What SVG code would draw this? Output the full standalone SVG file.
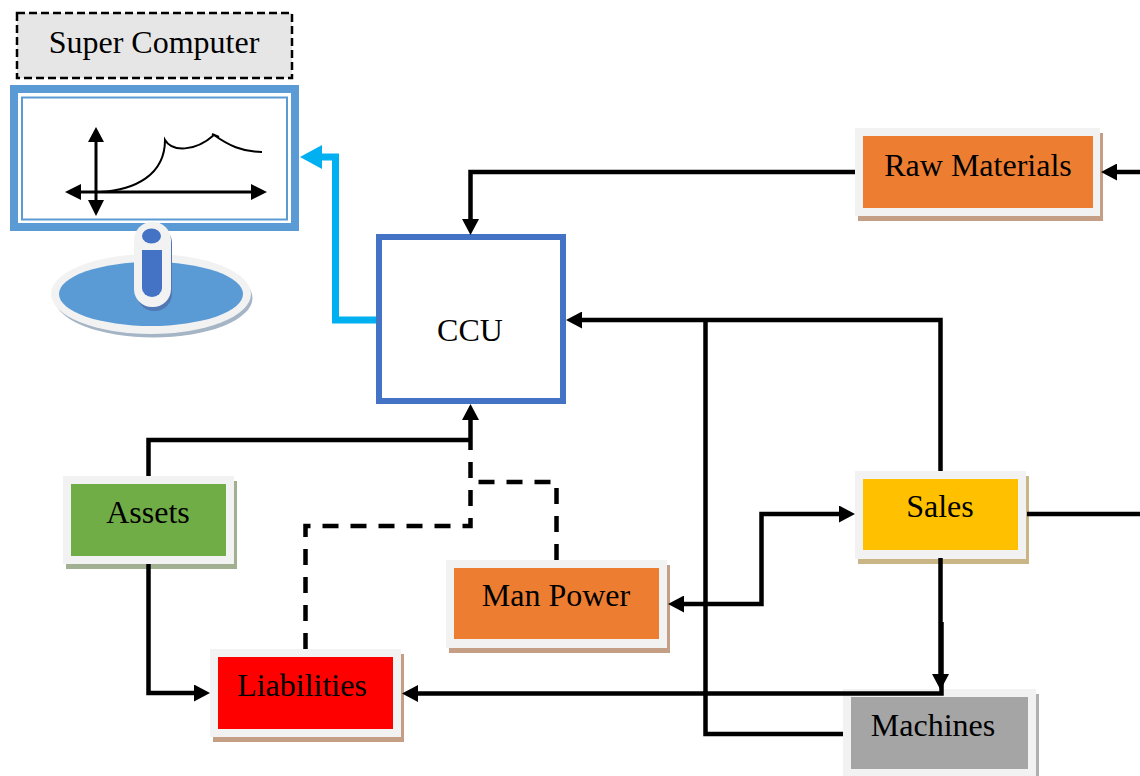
<svg xmlns="http://www.w3.org/2000/svg" width="1140" height="776" viewBox="0 0 1140 776">
<style>
.label{font-family:"Liberation Serif","Times New Roman",serif;font-size:32px;fill:#000;text-anchor:middle}
.frame{fill:#f2f2f2}
.c{fill:none;stroke:#000;stroke-width:4.500}
.d{stroke-dasharray:16 12}
.ax{fill:none;stroke:#000;stroke-width:3}
</style>
<defs>
<marker id="arrow" markerUnits="userSpaceOnUse" markerWidth="16" markerHeight="17" refX="8" refY="8.500" orient="auto-start-reverse" viewBox="0 0 16 17"><path d="M0 0L16 8.500L0 17Z" fill="#000"/></marker>
<marker id="blue" markerUnits="userSpaceOnUse" markerWidth="22" markerHeight="24" refX="11" refY="12" orient="auto" viewBox="0 0 22 24"><path d="M0 0L22 12L0 24Z" fill="#00b0f0"/></marker>
</defs>
<rect width="1140" height="776" fill="#fff"/>
<g id="super-computer-label">
<rect x="17" y="13" width="275" height="65" fill="#e7e6e6" stroke="#000" stroke-width="2.500" stroke-dasharray="8 4"/>
<text class="label" x="154" y="53">Super Computer</text>
</g>
<g id="monitor">
<ellipse cx="153.500" cy="298" rx="99" ry="39.500" fill="#a5b5c6"/>
<ellipse cx="151" cy="294" rx="100" ry="40" fill="#f2f2f2"/>
<ellipse cx="151" cy="294" rx="92" ry="32" fill="#5b9bd5"/>
<rect x="10" y="85" width="289" height="146" fill="#5b9bd5"/>
<rect x="18" y="93" width="273" height="130" fill="#fff"/>
<rect x="22" y="97.500" width="265" height="122" fill="#fff" stroke="#5b9bd5" stroke-width="2"/>
<path class="ax" d="M96 141V201"/>
<path d="M96 127L104 142H88Z M96 216L88 200H104Z M65 192L81 184V200Z M267 192L251 184V200Z"/>
<path class="ax" d="M80 192H252"/>
<path d="M100 192C135 190 165 175 165 140C172 152 195 152 214 135C228 145 242 152 262 152M212 134L219 137" fill="none" stroke="#000" stroke-width="2"/>
<rect x="137" y="226" width="35" height="85" rx="17" fill="#4f78b5"/>
<rect x="134" y="222" width="37" height="85" rx="18" fill="#f2f2f2"/>
<path d="M142 250H162V288A10 9 0 0 1 142 288Z" fill="#4472c4"/>
<ellipse cx="151.500" cy="236" rx="9.500" ry="7.500" fill="#4472c4"/>
</g>
<g id="ccu">
<rect x="379" y="237" width="184" height="164" fill="#fff" stroke="#4472c4" stroke-width="6"/>
<text class="label" x="470" y="341">CCU</text>
</g>
<g id="raw-materials">
<rect x="858" y="133" width="245" height="88" fill="#c49f85"/>
<rect class="frame" x="855" y="128" width="245" height="88"/>
<rect x="863" y="136" width="230" height="72" fill="#ed7d31"/>
<text class="label" x="978" y="176">Raw Materials</text>
</g>
<g id="assets">
<rect x="66" y="481" width="171" height="88" fill="#a0b090"/>
<rect class="frame" x="63" y="476" width="171" height="88"/>
<rect x="71" y="484" width="155" height="72" fill="#70ad47"/>
<text class="label" x="148" y="523">Assets</text>
</g>
<g id="liabilities">
<rect x="213" y="654" width="191" height="88" fill="#c49f85"/>
<rect class="frame" x="210" y="649" width="191" height="88"/>
<rect x="218" y="657" width="175" height="72" fill="#f00"/>
<text class="label" x="302" y="696">Liabilities</text>
</g>
<g id="man-power">
<rect x="449" y="565" width="221" height="88" fill="#c49f85"/>
<rect class="frame" x="446" y="560" width="221" height="88"/>
<rect x="454" y="568" width="205" height="71" fill="#ed7d31"/>
<text class="label" x="556" y="606">Man Power</text>
</g>
<g id="sales">
<rect x="858" y="476" width="171" height="88" fill="#c9b585"/>
<rect class="frame" x="855" y="471" width="171" height="88"/>
<rect x="863" y="479" width="155" height="71" fill="#ffc000"/>
<text class="label" x="940" y="517">Sales</text>
</g>
<g id="machines">
<rect x="846" y="694" width="193" height="88" fill="#b0b0b0"/>
<rect class="frame" x="843" y="689" width="193" height="88"/>
<rect x="851" y="697" width="177" height="72" fill="#a5a5a5"/>
<text class="label" x="933" y="736">Machines</text>
</g>
<g id="connectors">
<path class="c" d="M855 172H470.500V227" marker-end="url(#arrow)"/>
<path class="c" d="M1140 172H1109" marker-end="url(#arrow)"/>
<path d="M376 320H335.500V157H311" fill="none" stroke="#00b0f0" stroke-width="7" marker-end="url(#blue)"/>
<path class="c" d="M940.500 471V320H574" marker-end="url(#arrow)"/>
<path class="c" d="M843 734H705.500V320"/>
<path class="c" d="M148.500 476V440H470.500"/>
<path class="c" d="M470.500 450V412" marker-end="url(#arrow)"/>
<path class="c d" d="M305.500 649V526H470.500V450"/>
<path class="c d" d="M556.500 560V482H470.500"/>
<path class="c" d="M148.500 564V693H202" marker-end="url(#arrow)"/>
<path class="c" d="M1027 514H1140"/>
<path class="c" d="M847 514H761.500V604H676" marker-start="url(#arrow)" marker-end="url(#arrow)"/>
<path class="c" d="M940.500 558V682" marker-end="url(#arrow)"/>
<path class="c" d="M941.500 622V693.500H410" marker-end="url(#arrow)"/>
</g>
</svg>
